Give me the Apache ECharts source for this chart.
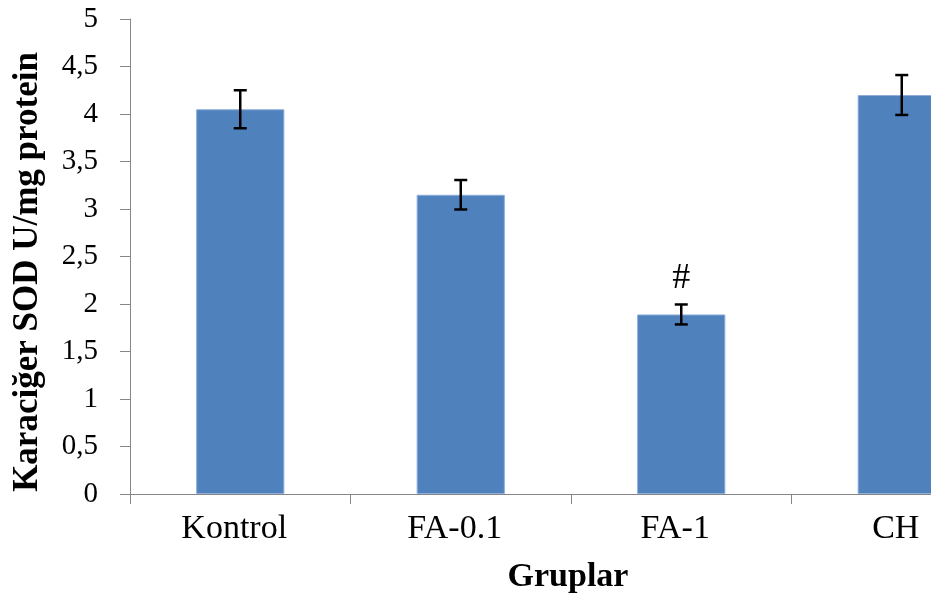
<!DOCTYPE html>
<html>
<head>
<meta charset="utf-8">
<script src="https://cdn.jsdelivr.net/npm/echarts@6/dist/echarts.min.js"></script>
<style>
  html, body { margin: 0; padding: 0; background: #fff; overflow: hidden; }
  /* the plot runs past the right edge of the picture, so the canvas is wider than the window */
  #chart { width: 1013px; height: 599px; }
</style>
</head>
<body>
<div id="chart"></div>
<script>
var groups = ['Kontrol', 'FA-0.1', 'FA-1', 'CH'];
var sodValues = [4.05, 3.15, 1.89, 4.2];
var sodErrors = [0.2, 0.155, 0.105, 0.21];
var sigMarks = ['', '', '#', ''];
var yTicks = [0, 0.5, 1, 1.5, 2, 2.5, 3, 3.5, 4, 4.5, 5];

var serif = '"Liberation Serif", "Times New Roman", serif';

function initSodChart() {
    var chart = echarts.init(document.getElementById('chart'));

    var errorData = [];
    for (var i = 0; i < groups.length; i++) {
        errorData.push([i, sodValues[i] - sodErrors[i], sodValues[i] + sodErrors[i], sigMarks[i]]);
    }

    chart.setOption({
        animation: false,
        grid: {
            left: 130,
            top: 19,
            right: 1,
            bottom: 105
        },
        xAxis: {
            type: 'category',
            data: groups,
            name: 'Gruplar',
            nameLocation: 'middle',
            nameGap: 66,
            nameTextStyle: {
                fontFamily: serif,
                fontWeight: 'bold',
                fontSize: 34,
                color: '#000',
                padding: [0, 6, 0, 0]
            },
            axisLine: { lineStyle: { color: '#868686', width: 1 } },
            axisTick: { show: true, length: 10, lineStyle: { color: '#868686' } },
            axisLabel: {
                margin: 18,
                fontFamily: serif,
                fontSize: 34,
                color: '#000',
                padding: [0, 12, 0, 0]
            }
        },
        yAxis: {
            type: 'value',
            min: yTicks[0],
            max: yTicks[yTicks.length - 1],
            interval: 0.5,
            name: 'Karaciğer SOD U/mg protein',
            nameLocation: 'middle',
            nameGap: 85,
            nameTextStyle: {
                fontFamily: serif,
                fontWeight: 'bold',
                fontSize: 35,
                color: '#000',
                padding: [0, 31, 0, 0]
            },
            splitLine: { show: false },
            axisLine: { show: true, lineStyle: { color: '#868686', width: 1 } },
            axisTick: { show: true, length: 10, lineStyle: { color: '#868686' } },
            axisLabel: {
                margin: 32,
                fontFamily: serif,
                fontSize: 29,
                color: '#000',
                formatter: function (v) {
                    return String(v).replace('.', ',');
                }
            }
        },
        series: [
            {
                type: 'bar',
                data: sodValues,
                barWidth: '40%',
                itemStyle: {
                    color: '#4F81BD',
                    borderColor: '#8FAEDB',
                    borderWidth: 1
                }
            },
            {
                type: 'custom',
                data: errorData,
                encode: { x: 0, y: [1, 2] },
                renderItem: function (params, api) {
                    var lo = api.coord([api.value(0), api.value(1)]);
                    var hi = api.coord([api.value(0), api.value(2)]);
                    var half = 6.5;
                    var style = { stroke: '#000', lineWidth: 2.5 };
                    var children = [
                        { type: 'line', shape: { x1: hi[0], y1: hi[1], x2: lo[0], y2: lo[1] }, style: style },
                        { type: 'line', shape: { x1: hi[0] - half, y1: hi[1], x2: hi[0] + half, y2: hi[1] }, style: style },
                        { type: 'line', shape: { x1: lo[0] - half, y1: lo[1], x2: lo[0] + half, y2: lo[1] }, style: style }
                    ];
                    var mark = sigMarks[params.dataIndex];
                    if (mark) {
                        children.push({
                            type: 'text',
                            style: {
                                text: mark,
                                x: hi[0],
                                y: hi[1] - 8,
                                align: 'center',
                                verticalAlign: 'bottom',
                                fontFamily: serif,
                                fontSize: 36,
                                fill: '#000'
                            }
                        });
                    }
                    return { type: 'group', children: children };
                },
                z: 5
            }
        ]
    });
}

initSodChart();
</script>
</body>
</html>
